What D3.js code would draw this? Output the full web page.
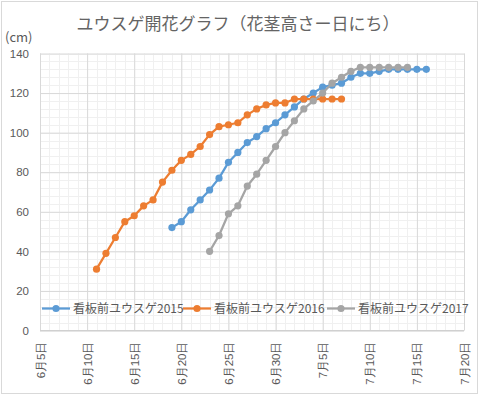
<!DOCTYPE html>
<html>
<head>
<meta charset="utf-8">
<script src="https://cdn.jsdelivr.net/npm/d3@7"></script>
<style>
  body { margin: 0; background: #fff; }
  svg { display: block; font-family: "Noto Sans CJK JP", "Noto Sans", sans-serif; }
</style>
</head>
<body>
<svg id="chart" width="480" height="396"></svg>
<script>
// 各年の測定開始日と花茎高さ(cm)、1日ごと
const seriesNames = ["看板前ユウスゲ2015", "看板前ユウスゲ2016", "看板前ユウスゲ2017"];
const seriesColors = ["#5B9BD5", "#ED7D31", "#A5A5A5"];
const startDays = ["2017-06-19", "2017-06-11", "2017-06-23"];

const heights2015 = [52, 55, 61, 66, 71, 77, 85, 90, 95, 98, 102, 105, 109, 113, 117, 120,
  123, 124, 125, 128, 130, 130, 131, 132, 132, 132, 132, 132];
const heights2016 = [31, 39, 47, 55, 58, 63, 66, 75, 81, 86, 89, 93, 99, 103, 104, 105,
  109, 112, 114, 115, 115, 117, 117, 117, 117, 117, 117];
const heights2017 = [40, 48, 59, 63, 73, 79, 86, 93, 100, 106, 112, 116, 120, 125, 128,
  131, 133, 133, 133, 133, 133, 133];

const yTicks = [0, 20, 40, 60, 80, 100, 120, 140];
const xTickDays = ["2017-06-05", "2017-06-10", "2017-06-15", "2017-06-20", "2017-06-25",
  "2017-06-30", "2017-07-05", "2017-07-10", "2017-07-15", "2017-07-20"];

const parse = d3.timeParse("%Y-%m-%d");
const allValues = [heights2015, heights2016, heights2017];

const series = seriesNames.map((name, i) => {
  const start = parse(startDays[i]);
  return {
    name,
    color: seriesColors[i],
    points: allValues[i].map((v, k) => ({ date: d3.timeDay.offset(start, k), value: v }))
  };
});

const svg = d3.select("#chart");
const W = 480, H = 396;
const plot = { left: 40, right: 464, top: 53.5, bottom: 330.5 };

svg.append("rect")
  .attr("x", 1.5).attr("y", 1.5)
  .attr("width", W - 4).attr("height", H - 4)
  .attr("fill", "#fff")
  .attr("stroke", "#d9d9d9");

const x = d3.scaleTime()
  .domain([parse(xTickDays[0]), parse(xTickDays[xTickDays.length - 1])])
  .range([plot.left, plot.right]);

const y = d3.scaleLinear()
  .domain([0, 140])
  .range([plot.bottom, plot.top]);

// 補助目盛線
const grid = svg.append("g");
grid.selectAll("line.minor-x")
  .data(d3.timeDay.range(x.domain()[0], d3.timeDay.offset(x.domain()[1], 1)))
  .join("line")
  .attr("x1", d => Math.round(x(d)) + 0.5).attr("x2", d => Math.round(x(d)) + 0.5)
  .attr("y1", plot.top).attr("y2", plot.bottom)
  .attr("stroke", "#f0f0f0");

grid.selectAll("line.minor-y")
  .data(d3.range(0, 141, 4))
  .join("line")
  .attr("x1", plot.left).attr("x2", plot.right)
  .attr("y1", d => Math.round(y(d)) + 0.5).attr("y2", d => Math.round(y(d)) + 0.5)
  .attr("stroke", "#f0f0f0");

// 主目盛線
const xAxis = d3.axisBottom(x)
  .tickValues(xTickDays.map(parse))
  .tickSize(-(plot.bottom - plot.top))
  .tickFormat(d3.timeFormat("%-m月%-d日"));

const gx = svg.append("g")
  .attr("transform", `translate(0,${plot.bottom})`)
  .call(xAxis);
gx.select(".domain").remove();
gx.selectAll(".tick line").attr("stroke", "#d9d9d9");
gx.selectAll(".tick text")
  .attr("fill", "#595959")
  .style("font-size", "11.5px")
  .attr("text-anchor", "end")
  .attr("transform", "rotate(-90)")
  .attr("x", -11)
  .attr("y", 0)
  .attr("dy", "0.35em");

const yAxis = d3.axisLeft(y)
  .tickValues(yTicks)
  .tickSize(-(plot.right - plot.left))
  .tickPadding(11);

const gy = svg.append("g")
  .attr("transform", `translate(${plot.left},0)`)
  .call(yAxis);
gy.select(".domain").remove();
gy.selectAll(".tick line").attr("stroke", "#d9d9d9");
gy.selectAll(".tick text")
  .attr("fill", "#595959")
  .style("font-size", "11.5px");

svg.append("line")
  .attr("x1", plot.left).attr("x2", plot.right)
  .attr("y1", plot.bottom).attr("y2", plot.bottom)
  .attr("stroke", "#d0d0d0");

// 系列
const line = d3.line()
  .x(d => x(d.date))
  .y(d => y(d.value));

const groups = svg.append("g")
  .selectAll("g")
  .data(series)
  .join("g");

groups.append("path")
  .attr("d", d => line(d.points))
  .attr("fill", "none")
  .attr("stroke", d => d.color)
  .attr("stroke-width", 2.25)
  .attr("stroke-linejoin", "round");

groups.each(function (s) {
  d3.select(this).selectAll("circle")
    .data(s.points)
    .join("circle")
    .attr("cx", d => x(d.date))
    .attr("cy", d => y(d.value))
    .attr("r", 3.6)
    .attr("fill", s.color);
});

// 凡例
const legendX = [42, 183, 327];
const legend = svg.append("g")
  .selectAll("g")
  .data(series)
  .join("g")
  .attr("transform", (d, i) => `translate(${legendX[i]},308.5)`);

legend.append("line")
  .attr("x1", 0).attr("x2", 28)
  .attr("stroke", d => d.color)
  .attr("stroke-width", 2.25);
legend.append("circle")
  .attr("cx", 14).attr("r", 3.6)
  .attr("fill", d => d.color);
legend.append("text")
  .attr("x", 31)
  .attr("dy", "0.36em")
  .attr("fill", "#595959")
  .style("font-size", "12px")
  .text(d => d.name);

// タイトル
svg.append("text")
  .attr("x", 238).attr("y", 29.5)
  .attr("text-anchor", "middle")
  .attr("fill", "#646464")
  .style("font-size", "17px")
  .text("ユウスゲ開花グラフ（花茎高さー日にち）");

svg.append("text")
  .attr("x", 5).attr("y", 42)
  .attr("fill", "#595959")
  .style("font-size", "13px")
  .text("(cm)");
</script>
</body>
</html>
